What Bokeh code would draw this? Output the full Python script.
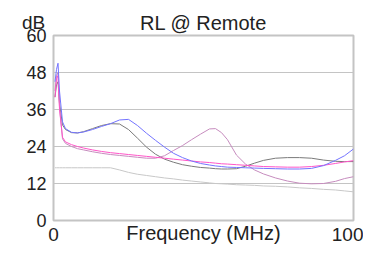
from bokeh.plotting import figure
from bokeh.models import Range1d, FixedTicker, Label
from bokeh.embed import file_html
from bokeh.resources import INLINE

freq = [0.5, 1, 1.5, 2, 3, 4, 6, 8, 10, 13, 16, 19, 22, 25, 28, 31, 34, 37, 40,
        43, 46, 49, 52, 54, 56, 58, 61, 64, 67, 70, 74, 78, 82, 86, 90, 94, 97, 100]

blue = [45, 49, 51, 42, 32, 29.8, 28.6, 28.4, 28.7, 29.5, 30.5, 31.4, 32.6, 32.8, 30.8,
        28.3, 26.0, 23.8, 21.8, 20.4, 19.3, 18.5, 18.0, 17.7, 17.5, 17.3, 17.2, 17.1,
        17.0, 16.9, 16.8, 16.7, 16.7, 16.9, 17.8, 19.5, 21.0, 23.2]

dark_gray = [40, 44, 45, 38, 31, 29.5, 28.5, 28.4, 28.8, 29.8, 30.8, 31.4, 31.3, 29.5,
             26.7, 23.8, 21.5, 19.9, 18.9, 18.1, 17.6, 17.2, 17.0, 16.8, 16.7, 16.7,
             16.8, 17.6, 18.6, 19.5, 20.2, 20.4, 20.4, 20.2, 19.6, 19.2, 19.1, 19.1]

pink = [40, 46, 47, 36, 27, 25.5, 24.6, 24.0, 23.5, 22.9, 22.4, 22.0, 21.7, 21.4, 21.1,
        20.8, 20.5, 20.2, 19.9, 19.6, 19.3, 19.0, 18.8, 18.6, 18.4, 18.3, 18.1, 17.9,
        17.7, 17.5, 17.4, 17.3, 17.3, 17.5, 17.9, 18.5, 19.0, 19.4]

mauve = [42, 47, 48, 37, 26.5, 25.0, 24.0, 23.3, 22.9, 22.3, 21.8, 21.4, 21.1, 20.8,
         20.5, 20.2, 20.2, 21.0, 22.7, 24.3, 26.2, 28.0, 29.7, 29.8, 28.5, 26.2, 21.2,
         18.3, 16.4, 15.1, 13.8, 12.8, 12.1, 11.9, 12.0, 12.7, 13.6, 14.2]

limit = [17.1, 17.1, 17.1, 17.1, 17.1, 17.1, 17.1, 17.1, 17.1, 17.1, 17.1, 17.1, 16.4,
         15.6, 15.0, 14.6, 14.2, 13.8, 13.5, 13.1, 12.8, 12.5, 12.2, 12.0, 11.9, 11.8,
         11.6, 11.5, 11.4, 11.2, 11.1, 10.9, 10.6, 10.4, 10.1, 9.9, 9.6, 9.3]

y_ticks = [0, 12, 24, 36, 48, 60]
x_ticks = [0, 100]
FONT = "Liberation Sans"

p = figure(width=363, height=246, output_backend="svg", toolbar_location=None,
           x_range=Range1d(0, 100), y_range=Range1d(0, 60),
           min_border_left=53, min_border_right=10, min_border_top=35,
           min_border_bottom=25, title="RL @ Remote")

p.title.align = "center"
p.title.text_font = FONT
p.title.text_font_size = "20px"
p.title.text_font_style = "normal"
p.title.text_color = "#222222"
p.title.standoff = 3

p.outline_line_color = "#c4c4c4"
p.outline_line_width = 2

p.xgrid.visible = False
p.ygrid.ticker = FixedTicker(ticks=[12, 24, 36, 48])
p.ygrid.grid_line_color = "#c4c4c4"
p.ygrid.grid_line_width = 1

for ax in (p.xaxis[0], p.yaxis[0]):
    ax.axis_line_color = None
    ax.major_tick_line_color = None
    ax.minor_tick_line_color = None
    ax.major_label_text_font = FONT
    ax.major_label_text_font_size = "19px"
    ax.major_label_text_color = "#222222"

p.yaxis[0].ticker = FixedTicker(ticks=y_ticks)
p.yaxis[0].major_label_text_font_size = "18px"
p.yaxis[0].major_label_standoff = 1
p.xaxis[0].ticker = FixedTicker(ticks=x_ticks)
p.xaxis[0].major_label_standoff = 1
p.xaxis[0].axis_label = "Frequency (MHz)"
p.xaxis[0].axis_label_text_font = FONT
p.xaxis[0].axis_label_text_font_size = "20px"
p.xaxis[0].axis_label_text_font_style = "normal"
p.xaxis[0].axis_label_text_color = "#222222"
p.xaxis[0].axis_label_standoff = -22

p.add_layout(Label(x=33, y=198, x_units="canvas", y_units="screen", text="dB",
                   text_align="center", text_baseline="middle", text_font=FONT,
                   text_font_size="19px", text_color="#222222"), "left")

p.line(freq, limit, line_color="#c8c8c8", line_width=1)
p.line(freq, dark_gray, line_color="#7a7a7a", line_width=1)
p.line(freq, mauve, line_color="#c68cbe", line_width=1)
p.line(freq, pink, line_color="#ff55c8", line_width=1)
p.line(freq, blue, line_color="#7474ff", line_width=1)

open("out.html", "w").write(file_html(p, INLINE))
